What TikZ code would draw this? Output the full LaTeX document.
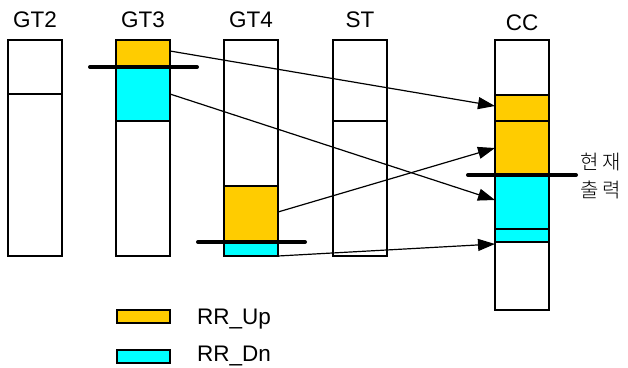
\documentclass[tikz,border=0pt]{standalone}
\usepackage{fontspec}
\setmainfont{Liberation Sans}
\newfontfamily\krfont{Noto Sans CJK KR Light}
\usetikzlibrary{arrows.meta}
\definecolor{rrup}{HTML}{FFCC00}
\definecolor{rrdn}{HTML}{00FFFF}
\begin{document}
\begin{tikzpicture}[x=1pt,y=-1pt,
  box/.style={draw=black,line width=1.3pt},
  upbox/.style={box,fill=rrup},
  dnbox/.style={box,fill=rrdn},
  level/.style={line width=4pt,line cap=round},
  flow/.style={line width=1.2pt,-{Triangle[length=17pt,width=12pt]}},
  lbl/.style={font=\fontsize{22.5}{26}\selectfont,anchor=base,inner sep=0pt},
  kr/.style={font=\krfont\fontsize{20}{28}\selectfont,anchor=center,inner sep=0pt}]
\useasboundingbox (0,0) rectangle (628,367);
% labels
\node[lbl] (lgt2) at (35,27) {GT2};
\node[lbl] (lgt3) at (143,27) {GT3};
\node[lbl] (lgt4) at (251,27) {GT4};
\node[lbl] (lst) at (360,27) {ST};
\node[lbl] (lcc) at (522,30) {CC};
% GT2
\draw[box] (8,40) rectangle (62,256);
\draw[box] (8,94) -- (62,94);
% GT3
\draw[box] (116,40) rectangle (170,256);
\draw[upbox] (116,40) rectangle (170,66);
\draw[dnbox] (116,66) rectangle (170,121);
% GT4
\draw[box] (224,40) rectangle (278,256);
\draw[upbox] (224,186) rectangle (278,242);
\draw[dnbox] (224,242) rectangle (278,256);
% ST
\draw[box] (333,40) rectangle (387,256);
\draw[box] (333,121) -- (387,121);
% CC
\draw[box] (495,40) rectangle (549,310);
\draw[upbox] (495,95) rectangle (549,175);
\draw[box] (495,121) -- (549,121);
\draw[dnbox] (495,175) rectangle (549,242);
\draw[box] (495,229) -- (549,229);
% level lines
\coordinate (l3a) at (90,67); \coordinate (l3b) at (197,67);
\coordinate (l4a) at (198,242); \coordinate (l4b) at (305,242);
\coordinate (lca) at (468,175); \coordinate (lcb) at (576,175);
\draw[level] (l3a) -- (l3b);
\draw[level] (l4a) -- (l4b);
\draw[level] (lca) -- (lcb);
% arrow endpoints
\coordinate (s1) at (170,51);  \coordinate (t1) at (495,106);
\coordinate (s2) at (170,94);  \coordinate (t2) at (495,200);
\coordinate (s3) at (278,212); \coordinate (t3) at (495,148);
\coordinate (s4) at (278,256); \coordinate (t4) at (495,244);
\draw[flow] (s1) -- (t1);
\draw[flow] (s2) -- (t2);
\draw[flow] (s3) -- (t3);
\draw[flow] (s4) -- (t4);
% Korean label
\node[kr] (now1) at (601,162) {현\,재};
\node[kr] (now2) at (601,190) {출\,력};
% legend
\draw[upbox] (117,310) rectangle (170,323);
\draw[dnbox] (117,350) rectangle (170,363);
\node[lbl,anchor=base west] (lup) at (197,324) {RR\_Up};
\node[lbl,anchor=base west] (ldn) at (197,361) {RR\_Dn};
\end{tikzpicture}
\end{document}
